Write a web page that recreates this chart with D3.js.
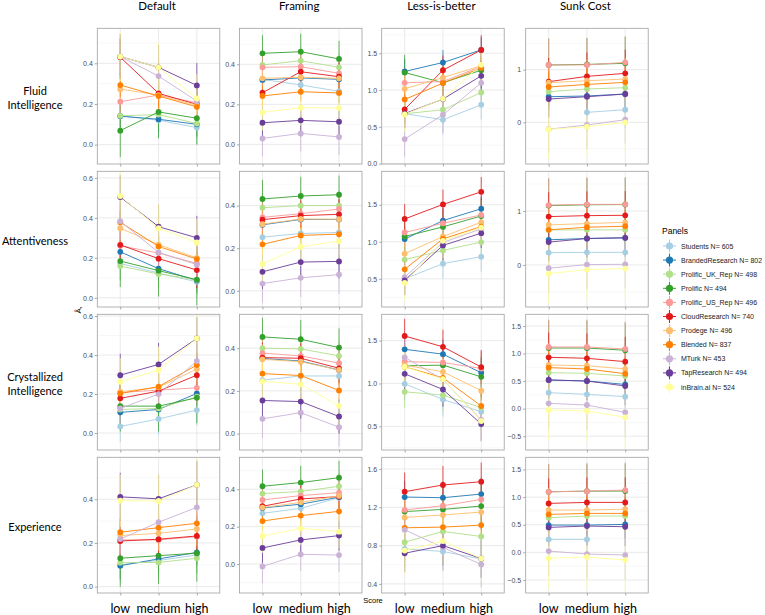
<!DOCTYPE html>
<html><head><meta charset="utf-8">
<script src="https://cdn.jsdelivr.net/npm/d3@7"></script>
<style>body{margin:0;background:#fff}</style></head>
<body>
<svg id="c" width="765" height="615"></svg>
<script>
const series = ["Students N= 605","BrandedResearch N= 802","Prolific_UK_Rep N= 498","Prolific N= 494","Prolific_US_Rep N= 496","CloudResearch N= 740","Prodege N= 496","Blended N= 837","MTurk N= 453","TapResearch N= 494","inBrain.ai N= 524"];
const colors = ["#A6CEE3","#1F78B4","#B2DF8A","#33A02C","#FB9A99","#E31A1C","#FDBF6F","#FF7F00","#CAB2D6","#6A3D9A","#FFFF99"];
const levels = ["low","medium","high"];
const rowLabels = [["Fluid","Intelligence"],["Attentiveness"],["Crystallized","Intelligence"],["Experience"]];
const colLabels = ["Default","Framing","Less-is-better","Sunk Cost"];

// means [low, medium, high] per series (order as in `series`)
const fluidDefault = [[0.142,0.12,0.084],[0.14,0.125,0.10],[0.142,0.148,0.104],[0.069,0.161,0.13],[0.211,0.244,0.206],[0.43,0.252,0.198],[0.273,0.244,0.194],[0.293,0.239,0.186],[0.433,0.337,0.214],[0.433,0.38,0.291],[0.433,0.38,0.227]];
const fluidFraming = [[0.325,0.297,0.265],[0.322,0.332,0.325],[0.397,0.418,0.385],[0.455,0.463,0.427],[0.385,0.388,0.355],[0.258,0.363,0.338],[0.33,0.335,0.33],[0.242,0.263,0.257],[0.03,0.055,0.037],[0.108,0.12,0.113],[0.16,0.183,0.182]];
const fluidLIB = [[0.68,0.596,0.80],[1.252,1.374,1.545],[0.678,0.732,0.967],[1.238,1.10,1.27],[1.098,1.116,1.32],[0.737,1.27,1.545],[1.017,1.17,1.33],[0.872,1.094,1.30],[0.334,0.664,1.098],[0.68,0.877,1.193],[0.669,0.881,1.342]];
const fluidSunk = [[null,0.19,0.24],[0.487,0.5,0.538],[0.582,0.633,0.658],[1.089,1.10,1.12],[1.089,1.09,1.139],[0.772,0.873,0.93],[0.753,0.79,0.823],[0.671,0.72,0.759],[-0.13,-0.05,0.05],[0.443,0.487,0.538],[-0.133,-0.082,0.0]];

const attDefault = [[0.172,0.124,0.08],[0.23,0.146,0.086],[0.159,0.119,0.09],[0.184,0.136,0.091],[0.26,0.224,0.172],[0.265,0.196,0.139],[0.348,0.266,0.2],[0.378,0.257,0.194],[0.383,0.227,0.166],[0.504,0.356,0.30],[0.509,0.348,0.277]];
const attFraming = [[0.252,0.269,0.274],[0.31,0.335,0.335],[0.39,0.40,0.40],[0.431,0.445,0.451],[0.345,0.362,0.384],[0.334,0.353,0.359],[0.313,0.337,0.336],[0.218,0.26,0.266],[0.034,0.061,0.076],[0.089,0.135,0.138],[0.126,0.207,0.233]];
const attLIB = [[0.50,0.705,0.799],[1.036,1.286,1.446],[0.759,0.884,0.996],[1.071,1.201,1.348],[1.125,1.25,1.362],[1.308,1.504,1.674],[0.839,1.071,1.263],[0.629,1.04,1.205],[0.522,0.991,1.174],[0.48,0.951,1.116],[0.446,1.013,1.192]];
const attSunk = [[0.227,0.233,0.233],[0.466,0.49,0.503],[0.65,0.65,0.65],[1.10,1.115,1.12],[1.11,1.123,1.123],[0.896,0.914,0.92],[0.742,0.767,0.79],[0.65,0.699,0.718],[-0.061,0.006,0.012],[0.423,0.49,0.503],[-0.16,-0.086,-0.067]];

const crysDefault = [[0.034,0.072,0.118],[0.106,0.121,0.203],[0.121,0.126,0.186],[0.138,0.138,0.181],[0.208,0.22,0.232],[0.178,0.215,0.297],[0.212,0.234,0.328],[0.203,0.238,0.349],[0.126,0.2,0.369],[0.297,0.352,0.485],[0.263,0.323,0.485]];
const crysFraming = [[0.25,0.27,0.27],[0.352,0.34,0.298],[0.40,0.397,0.364],[0.453,0.442,0.403],[0.377,0.364,0.33],[0.356,0.353,0.306],[0.348,0.337,0.298],[0.281,0.272,0.202],[0.069,0.098,0.03],[0.155,0.15,0.08],[0.245,0.231,0.13]];
const crysLIB = [[0.996,0.813,0.671],[1.399,1.342,1.125],[0.903,0.864,0.72],[1.206,1.214,1.078],[1.255,1.245,1.175],[1.554,1.428,1.191],[1.214,1.136,0.916],[1.195,1.066,0.737],[1.305,1.046,0.574],[1.113,0.93,0.527],[1.195,1.05,0.562]];
const crysSunk = [[0.29,0.26,0.218],[0.52,0.502,0.44],[0.653,0.641,0.593],[1.10,1.10,1.06],[1.119,1.119,1.083],[0.932,0.914,0.853],[0.792,0.78,0.72],[0.744,0.72,0.635],[0.097,0.066,-0.067],[0.52,0.502,0.411],[-0.024,-0.042,-0.157]];

const expDefault = [[0.1,0.12,0.145],[0.096,0.127,0.157],[0.11,0.111,0.13],[0.13,0.142,0.153],[0.214,0.214,0.229],[0.209,0.217,0.232],[0.234,0.244,0.264],[0.249,0.27,0.29],[0.218,0.295,0.363],[0.411,0.402,0.466],[0.394,0.392,0.466]];
const expFraming = [[0.271,0.298,0.355],[0.30,0.32,0.358],[0.377,0.388,0.416],[0.416,0.436,0.462],[0.343,0.366,0.382],[0.309,0.348,0.361],[0.302,0.33,0.365],[0.23,0.259,0.282],[-0.013,0.052,0.048],[0.086,0.129,0.152],[0.15,0.191,0.173]];
const expLIB = [[0.765,0.739,0.66],[1.307,1.30,1.338],[0.835,0.948,0.895],[1.155,1.178,1.213],[1.172,1.216,1.282],[1.363,1.433,1.467],[1.094,1.12,1.15],[0.986,0.993,1.014],[0.965,0.78,0.603],[0.72,0.80,0.665],[0.748,0.847,0.665]];
const expSunk = [[0.235,0.235,null],[0.494,0.494,0.506],[0.627,0.657,0.657],[1.096,1.108,1.11],[1.096,1.108,1.127],[0.886,0.904,0.904],[0.765,0.765,0.783],[0.687,0.705,0.705],[0.024,-0.03,-0.048],[0.452,0.476,0.464],[-0.108,-0.084,-0.139]];

// CI half-widths per series
const ciDefault = [0.08,0.06,0.07,0.13,0.08,0.09,0.08,0.06,0.09,0.11,0.12];
const ciFraming = [0.07,0.06,0.07,0.09,0.07,0.07,0.07,0.05,0.09,0.08,0.09];
const ciLIB = [0.2,0.17,0.19,0.24,0.2,0.2,0.19,0.15,0.24,0.2,0.24];
const ciSunk = [0.35,0.25,0.3,0.5,0.5,0.45,0.4,0.3,0.45,0.35,0.55];

// y-axis domains and tick values
const yDomains = [
  [[-0.095,0.572],[-0.098,0.58],[-0.005,1.839],[-0.79,1.785]],
  [[-0.046,0.633],[-0.076,0.561],[0.12,1.951],[-0.78,1.736]],
  [[-0.087,0.609],[-0.077,0.559],[0.224,1.807],[-0.75,1.712]],
  [[-0.029,0.592],[-0.155,0.571],[0.305,1.722],[-0.735,1.72]]];
const yTicks = [
  [[0,0.2,0.4],[0,0.2,0.4],[0,0.5,1,1.5],[0,1]],
  [[0,0.2,0.4,0.6],[0,0.2,0.4],[0.5,1,1.5],[0,1]],
  [[0,0.2,0.4,0.6],[0,0.2,0.4],[0.5,1,1.5],[-0.5,0,0.5,1,1.5]],
  [[0,0.2,0.4],[0,0.2,0.4],[0.4,0.8,1.2,1.6],[-0.5,0,0.5,1,1.5]]];

const grid = [
  [fluidDefault, fluidFraming, fluidLIB, fluidSunk],
  [attDefault, attFraming, attLIB, attSunk],
  [crysDefault, crysFraming, crysLIB, crysSunk],
  [expDefault, expFraming, expLIB, expSunk]];
const cis = [ciDefault, ciFraming, ciLIB, ciSunk];

const svg = d3.select("#c");
svg.append("rect").attr("width",765).attr("height",615).attr("fill","#fff");
const colX = [97.3, 239.5, 381.7, 525.7], pw = 122.5;
const rowY = [28.3, 171.3, 314.3, 457.3], ph = 135.7;
const tickFont = "'Liberation Sans', Arial, sans-serif";
const labFont = "Lato, 'Open Sans', sans-serif";

grid.forEach((row, ri) => {
  row.forEach((data, ci) => {
    const g = svg.append("g").attr("transform", `translate(${colX[ci]},${rowY[ri]})`);
    const x = d3.scalePoint().domain(levels).range([0, pw]).padding(0.6);
    const y = d3.scaleLinear().domain(yDomains[ri][ci]).range([ph, 0]);
    const ticks = yTicks[ri][ci];
    const step = ticks[1] - ticks[0];
    const [d0, d1] = yDomains[ri][ci];
    const minors = [];
    for (let v = ticks[0] - step/2; v <= d1; v += step) if (v >= d0) minors.push(v);
    // grid
    g.selectAll(".mn").data(minors).enter().append("line")
      .attr("x1",0).attr("x2",pw).attr("y1",d=>y(d)).attr("y2",d=>y(d))
      .attr("stroke","#f0f0f0").attr("stroke-width",0.5);
    g.selectAll(".mj").data(ticks).enter().append("line")
      .attr("x1",0).attr("x2",pw).attr("y1",d=>y(d)).attr("y2",d=>y(d))
      .attr("stroke","#e4e4e4").attr("stroke-width",0.8);
    g.selectAll(".vj").data(levels).enter().append("line")
      .attr("x1",d=>x(d)).attr("x2",d=>x(d)).attr("y1",0).attr("y2",ph)
      .attr("stroke","#e4e4e4").attr("stroke-width",0.8);
    // axes
    const fmt = ticks.every(t => Number.isInteger(t)) && ticks.length <= 2 ? d3.format("d") : d3.format(".1f");
    const ya = g.append("g").call(d3.axisLeft(y).tickValues(ticks).tickFormat(fmt).tickSize(2.5).tickPadding(2));
    ya.select(".domain").remove();
    ya.selectAll("line").attr("stroke","#a8a8a8");
    ya.selectAll("text").attr("fill","#4d4d4d").style("font-family",tickFont).style("font-size","7px");
    const xa = g.append("g").attr("transform",`translate(0,${ph})`).call(d3.axisBottom(x).tickSize(2.5).tickFormat(""));
    xa.select(".domain").remove();
    xa.selectAll("line").attr("stroke","#a8a8a8");
    // error bars
    const ciArr = cis[ci];
    data.forEach((vals, si) => {
      vals.forEach((v, li) => {
        if (v == null) return;
        g.append("line").attr("x1",x(levels[li])).attr("x2",x(levels[li]))
          .attr("y1",y(Math.max(v - ciArr[si], d0))).attr("y2",y(Math.min(v + ciArr[si], d1)))
          .attr("stroke",colors[si]).attr("stroke-width",1).attr("opacity",0.75);
      });
    });
    // lines
    const line = d3.line().defined(d => d.v != null).x(d => x(d.l)).y(d => y(d.v));
    data.forEach((vals, si) => {
      g.append("path").datum(vals.map((v, li) => ({l: levels[li], v})))
        .attr("d", line).attr("fill","none").attr("stroke",colors[si]).attr("stroke-width",0.9);
    });
    // points
    data.forEach((vals, si) => {
      vals.forEach((v, li) => {
        if (v == null) return;
        g.append("circle").attr("cx",x(levels[li])).attr("cy",y(v)).attr("r",2.9).attr("fill",colors[si]);
      });
    });
    // border
    g.append("rect").attr("width",pw).attr("height",ph).attr("fill","none").attr("stroke","#a0a0a0").attr("stroke-width",0.8);
    // bottom labels
    if (ri === 3) {
      g.selectAll(".xl").data(levels).enter().append("text")
        .attr("x",d=>x(d)).attr("y",ph+20).attr("text-anchor","middle")
        .style("font-family",labFont).style("font-size","12.5px").attr("fill","#000").text(d=>d);
    }
  });
});

// column titles
colLabels.forEach((t, i) => {
  svg.append("text").attr("x", colX[i] + pw/2 - 1.5).attr("y", 10).attr("text-anchor","middle")
    .style("font-family",labFont).style("font-size","11.5px").attr("fill","#000").text(t);
});
// row labels
rowLabels.forEach((ls, i) => {
  const cy = rowY[i] + ph/2 + 2;
  ls.forEach((t, k) => {
    svg.append("text").attr("x",35).attr("y", cy + (k - (ls.length-1)/2)*14.5 + 4)
      .attr("text-anchor","middle").style("font-family",labFont).style("font-size","11px").attr("fill","#000").text(t);
  });
});
// axis titles
svg.append("text").attr("x",373).attr("y",603).attr("text-anchor","middle")
  .style("font-family",tickFont).style("font-size","7.5px").attr("fill","#000").text("Score");
svg.append("text").attr("transform","translate(81,310) rotate(-90)").attr("text-anchor","middle")
  .style("font-family",tickFont).style("font-size","8px").attr("fill","#000").text("Â‚");

// legend
const lg = svg.append("g").attr("transform","translate(662,0)");
lg.append("text").attr("x",0).attr("y",234).style("font-family",tickFont).style("font-size","8.5px").attr("fill","#000").text("Panels");
series.forEach((s, i) => {
  const cy = 246 + i*14.1, cx = 7.5;
  lg.append("line").attr("x1",cx-6.5).attr("x2",cx+6.5).attr("y1",cy).attr("y2",cy).attr("stroke",colors[i]).attr("stroke-width",1);
  lg.append("line").attr("x1",cx).attr("x2",cx).attr("y1",cy-6.5).attr("y2",cy+6.5).attr("stroke",colors[i]).attr("stroke-width",1.1);
  lg.append("circle").attr("cx",cx).attr("cy",cy).attr("r",3.6).attr("fill",colors[i]);
  lg.append("text").attr("x",19).attr("y",cy+2.5).style("font-family",tickFont).style("font-size","7px").attr("fill","#1a1a1a").text(s);
});
</script>
</body></html>
